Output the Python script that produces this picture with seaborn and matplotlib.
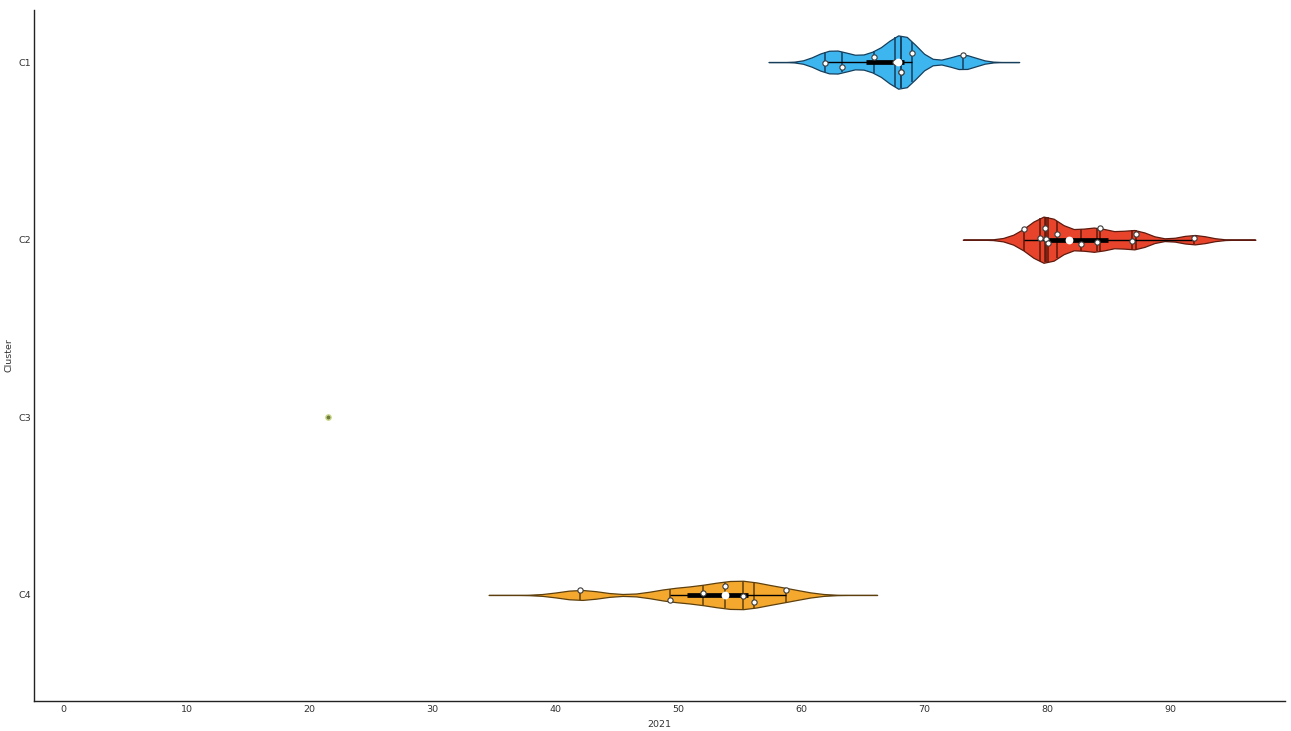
import numpy as np
import pandas as pd
import matplotlib
matplotlib.use("Agg")
import matplotlib.pyplot as plt
from matplotlib import cbook
import seaborn as sns

# ---- data ----
clusters = ["C1", "C2", "C3", "C4"]
c1_values = [61.9, 63.3, 65.9, 67.6, 68.1, 68.1, 69.0, 73.1]
c2_values = [78.1, 79.4, 79.8, 79.9, 80.0, 80.8, 82.7, 84.0, 84.3, 86.9, 87.2, 91.9]
c3_values = [21.5]
c4_values = [42.0, 49.3, 52.0, 53.8, 55.2, 56.1, 58.7]
x_label = "2021"
y_label = "Cluster"

# ---- styles ----
fill_colors = {"C1": "#3db5ef", "C2": "#e8442b", "C3": "#c9d86b", "C4": "#f4a82d"}
edge_colors = {"C1": "#173f5c", "C2": "#5e1a0e", "C3": "#5f6b2a", "C4": "#5e400e"}
violin_widths = {"C1": 0.30, "C2": 0.26, "C3": 0.0, "C4": 0.16}

values_by_cluster = {"C1": c1_values, "C2": c2_values, "C3": c3_values, "C4": c4_values}
df = pd.DataFrame(
    [(c, v) for c in clusters for v in values_by_cluster[c]],
    columns=["cluster", "value"],
)

sns.set_style("white")
plt.rcParams["font.family"] = ["DejaVu Sans"]

fig = plt.figure(figsize=(12.91, 7.31), dpi=100)
ax = fig.add_axes([34 / 1291, 1 - 701 / 731, 1251 / 1291, 691 / 731])

bw_adj = 0.45
cut = 2 / bw_adj
for i, c in enumerate(clusters):
    sub = df[df["cluster"] == c]
    if len(sub) < 2:
        continue
    sns.violinplot(
        data=sub, x="value", y="cluster", order=clusters, orient="h",
        color=fill_colors[c], linecolor=edge_colors[c], linewidth=0.9,
        inner="stick", inner_kws=dict(linewidth=1.1),
        bw_adjust=bw_adj, cut=cut, gridsize=30,
        width=violin_widths[c], density_norm="width", saturation=1, ax=ax,
    )
    # inner box (Tukey whiskers, IQR bar, median dot) computed from the data
    st = cbook.boxplot_stats(np.asarray(sub["value"]))[0]
    ax.plot([st["whislo"], st["whishi"]], [i, i], color="black", lw=1.0,
            solid_capstyle="butt", zorder=4)
    ax.plot([st["q1"], st["q3"]], [i, i], color="black", lw=3.4,
            solid_capstyle="butt", zorder=4)
    ax.plot([st["med"]], [i], marker="o", ms=4.6, color="white",
            mec="white", zorder=7, ls="none")

np.random.seed(3)
multi = df[df["cluster"] != "C3"]
sns.stripplot(
    data=multi, x="value", y="cluster", order=clusters, orient="h",
    color="white", edgecolor="#3a3a3a", linewidth=0.8, size=3.8,
    jitter=0.07, zorder=6, ax=ax,
)
single = df[df["cluster"] == "C3"]
sns.stripplot(
    data=single, x="value", y="cluster", order=clusters, orient="h",
    color="#6f7c3a", edgecolor="#c9d88a", linewidth=1.0, size=3.8,
    jitter=0, zorder=6, ax=ax,
)

ax.set_xlim(-2.4, 99.3)
ax.set_ylim(3.597, -0.293)
ax.set_xticks(np.arange(0, 100, 10))
ax.set_yticks(range(len(clusters)))
ax.set_yticklabels(clusters)

for s in ["top", "right"]:
    ax.spines[s].set_visible(False)
for s in ["left", "bottom"]:
    ax.spines[s].set_color("#222222")
    ax.spines[s].set_linewidth(1.0)

ax.tick_params(axis="both", direction="in", length=4, width=0.8, colors="#222222",
               labelsize=6.8, labelcolor="#333333")
ax.tick_params(axis="x", pad=3)
ax.tick_params(axis="y", pad=2)
ax.set_xlabel(x_label, fontsize=6.8, color="#333333", labelpad=4)
ax.set_ylabel(y_label, fontsize=6.8, color="#333333")
ax.yaxis.set_label_coords(-0.0165, 0.5)
ax.grid(False)

fig.savefig("out.png", dpi=100)
